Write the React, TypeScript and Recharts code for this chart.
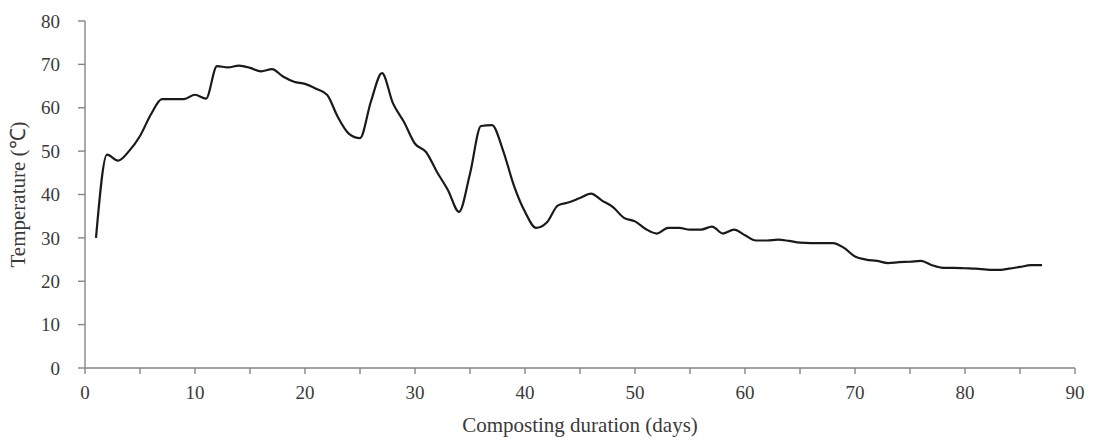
import { LineChart, Line, XAxis, YAxis, Label } from 'recharts';

// Composting days (daily readings)
const days = [
  1, 2, 3, 4, 5, 6, 7, 8, 9, 10, 11, 12, 13, 14, 15, 16, 17, 18, 19, 20,
  21, 22, 23, 24, 25, 26, 27, 28, 29, 30, 31, 32, 33, 34, 35, 36, 37, 38, 39, 40,
  41, 42, 43, 44, 45, 46, 47, 48, 49, 50, 51, 52, 53, 54, 55, 56, 57, 58, 59, 60,
  61, 62, 63, 64, 65, 66, 67, 68, 69, 70, 71, 72, 73, 74, 75, 76, 77, 78, 79, 80,
  81, 82, 83, 84, 85, 86, 87,
];

// Pile temperature (°C)
const temperature = [
  30, 49.2, 47.8, 50, 53.5, 58.5, 62, 62, 62, 63, 62.1, 69.6, 69.3, 69.7, 69.2, 68.4, 68.9, 67.2, 66, 65.5,
  64.4, 63, 57.8, 54, 53, 61.5, 68, 61, 56.7, 51.7, 49.8, 45.2, 41, 36, 44.8, 55.8, 56, 50.2, 42, 36,
  32.3, 33.6, 37.5, 38.2, 39.2, 40.2, 38.6, 37.1, 34.6, 33.8, 32, 31, 32.3, 32.3, 31.9, 31.9, 32.6, 31, 31.9, 30.6,
  29.4, 29.4, 29.6, 29.3, 28.9, 28.8, 28.8, 28.8, 27.7, 25.7, 25, 24.7, 24.2, 24.4, 24.5, 24.7, 23.7, 23.1, 23.1, 23,
  22.9, 22.7, 22.6, 22.9, 23.3, 23.7, 23.7,
];

const xTicks = [0, 5, 10, 15, 20, 25, 30, 35, 40, 45, 50, 55, 60, 65, 70, 75, 80, 85, 90];
const yTicks = [0, 10, 20, 30, 40, 50, 60, 70, 80];

const data = days.map((d, i) => ({ day: d, temp: temperature[i] }));

const font = '"Liberation Serif", "Times New Roman", serif';
const axisColor = '#868686';
const textColor = '#3a3a3a';

export default function App() {
  return (
    <div style={{ position: 'absolute', left: 0, top: 0, background: '#fff' }}>
      <LineChart
        width={1100}
        height={442}
        data={data}
        margin={{ top: 21, right: 25, left: 0, bottom: 0 }}
        style={{ fontFamily: font }}
      >
        <XAxis
          dataKey="day"
          type="number"
          domain={[0, 90]}
          ticks={xTicks}
          tickFormatter={(v: number) => (v % 10 === 0 ? String(v) : '')}
          stroke={axisColor}
          strokeWidth={1.4}
          tickSize={6}
          tickMargin={12}
          tick={{ fill: textColor, fontSize: 19, fontFamily: font }}
          height={74}
        >
          <Label
            value="Composting duration (days)"
            position="insideBottom"
            offset={10}
            style={{ fill: textColor, fontSize: 21, fontFamily: font }}
          />
        </XAxis>
        <YAxis
          type="number"
          domain={[0, 80]}
          ticks={yTicks}
          stroke={axisColor}
          strokeWidth={1.4}
          tickSize={7}
          tickMargin={18}
          tick={{ fill: textColor, fontSize: 19, fontFamily: font }}
          width={85}
        >
          <Label
            value="Temperature (℃)"
            angle={-90}
            position="insideLeft"
            offset={18}
            style={{ fill: textColor, fontSize: 21, fontFamily: font, textAnchor: 'middle' }}
          />
        </YAxis>
        <Line
          type="monotone"
          dataKey="temp"
          stroke="#1a1a1a"
          strokeWidth={2.2}
          dot={false}
          isAnimationActive={false}
        />
      </LineChart>
    </div>
  );
}
